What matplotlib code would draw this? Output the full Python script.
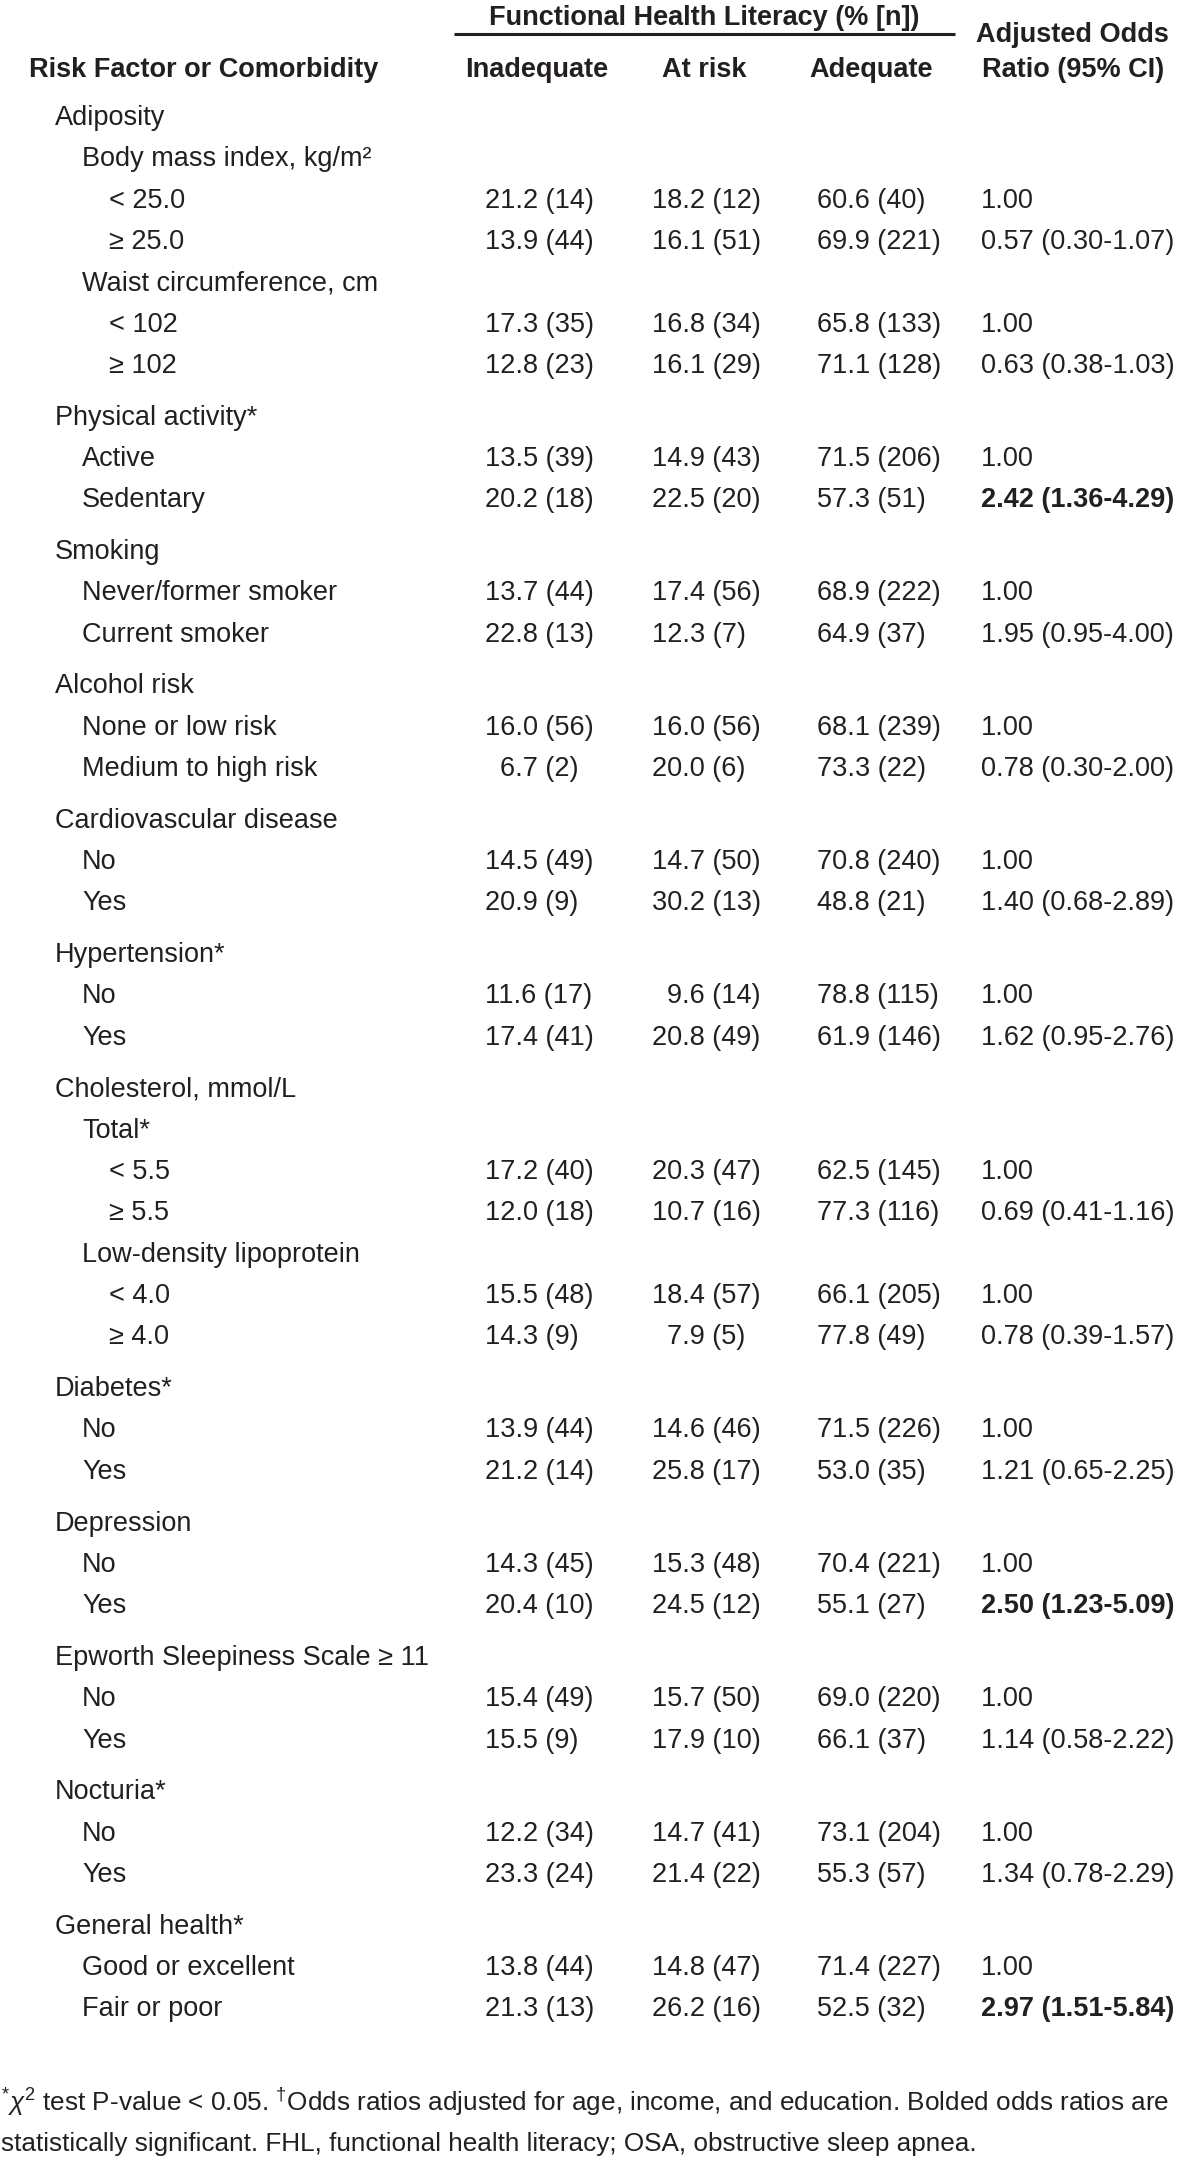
import matplotlib
matplotlib.use("Agg")
import matplotlib.pyplot as plt

# Данные таблицы
labels = [
    "Adiposity", "Body mass index, kg/m²", "< 25.0", "≥ 25.0",
    "Waist circumference, cm", "< 102", "≥ 102",
    "Physical activity*", "Active", "Sedentary",
    "Smoking", "Never/former smoker", "Current smoker",
    "Alcohol risk", "None or low risk", "Medium to high risk",
    "Cardiovascular disease", "No", "Yes",
    "Hypertension*", "No", "Yes",
    "Cholesterol, mmol/L", "Total*", "< 5.5", "≥ 5.5",
    "Low-density lipoprotein", "< 4.0", "≥ 4.0",
    "Diabetes*", "No", "Yes",
    "Depression", "No", "Yes",
    "Epworth Sleepiness Scale ≥ 11", "No", "Yes",
    "Nocturia*", "No", "Yes",
    "General health*", "Good or excellent", "Fair or poor",
]
levels = [0, 1, 2, 2, 1, 2, 2,
          0, 1, 1, 0, 1, 1, 0, 1, 1, 0, 1, 1, 0, 1, 1,
          0, 1, 2, 2, 1, 2, 2,
          0, 1, 1, 0, 1, 1, 0, 1, 1, 0, 1, 1, 0, 1, 1]

inadequate_pct = [None, None, 21.2, 13.9, None, 17.3, 12.8,
                  None, 13.5, 20.2, None, 13.7, 22.8, None, 16.0, 6.7,
                  None, 14.5, 20.9, None, 11.6, 17.4,
                  None, None, 17.2, 12.0, None, 15.5, 14.3,
                  None, 13.9, 21.2, None, 14.3, 20.4, None, 15.4, 15.5,
                  None, 12.2, 23.3, None, 13.8, 21.3]
inadequate_n = [None, None, 14, 44, None, 35, 23,
                None, 39, 18, None, 44, 13, None, 56, 2,
                None, 49, 9, None, 17, 41,
                None, None, 40, 18, None, 48, 9,
                None, 44, 14, None, 45, 10, None, 49, 9,
                None, 34, 24, None, 44, 13]
at_risk_pct = [None, None, 18.2, 16.1, None, 16.8, 16.1,
               None, 14.9, 22.5, None, 17.4, 12.3, None, 16.0, 20.0,
               None, 14.7, 30.2, None, 9.6, 20.8,
               None, None, 20.3, 10.7, None, 18.4, 7.9,
               None, 14.6, 25.8, None, 15.3, 24.5, None, 15.7, 17.9,
               None, 14.7, 21.4, None, 14.8, 26.2]
at_risk_n = [None, None, 12, 51, None, 34, 29,
             None, 43, 20, None, 56, 7, None, 56, 6,
             None, 50, 13, None, 14, 49,
             None, None, 47, 16, None, 57, 5,
             None, 46, 17, None, 48, 12, None, 50, 10,
             None, 41, 22, None, 47, 16]
adequate_pct = [None, None, 60.6, 69.9, None, 65.8, 71.1,
                None, 71.5, 57.3, None, 68.9, 64.9, None, 68.1, 73.3,
                None, 70.8, 48.8, None, 78.8, 61.9,
                None, None, 62.5, 77.3, None, 66.1, 77.8,
                None, 71.5, 53.0, None, 70.4, 55.1, None, 69.0, 66.1,
                None, 73.1, 55.3, None, 71.4, 52.5]
adequate_n = [None, None, 40, 221, None, 133, 128,
              None, 206, 51, None, 222, 37, None, 239, 22,
              None, 240, 21, None, 115, 146,
              None, None, 145, 116, None, 205, 49,
              None, 226, 35, None, 221, 27, None, 220, 37,
              None, 204, 57, None, 227, 32]
odds_ratio = ["", "", "1.00", "0.57 (0.30-1.07)", "", "1.00", "0.63 (0.38-1.03)",
              "", "1.00", "2.42 (1.36-4.29)", "", "1.00", "1.95 (0.95-4.00)",
              "", "1.00", "0.78 (0.30-2.00)", "", "1.00", "1.40 (0.68-2.89)",
              "", "1.00", "1.62 (0.95-2.76)",
              "", "", "1.00", "0.69 (0.41-1.16)", "", "1.00", "0.78 (0.39-1.57)",
              "", "1.00", "1.21 (0.65-2.25)", "", "1.00", "2.50 (1.23-5.09)",
              "", "1.00", "1.14 (0.58-2.22)", "", "1.00", "1.34 (0.78-2.29)",
              "", "1.00", "2.97 (1.51-5.84)"]
significant = ["2.42 (1.36-4.29)", "2.50 (1.23-5.09)", "2.97 (1.51-5.84)"]

col_headers = ["Inadequate", "At risk", "Adequate"]
footnote = [r"$^{*}\chi^{2}$ test P-value < 0.05. $^{\dagger}$Odds ratios adjusted for age, income, and education. Bolded odds ratios are",
            "statistically significant. FHL, functional health literacy; OSA, obstructive sleep apnea."]

INK = "#231f20"
plt.rcParams["font.family"] = ["Liberation Sans", "DejaVu Sans"]
plt.rcParams["mathtext.fontset"] = "custom"
plt.rcParams["mathtext.rm"] = "Liberation Sans"
plt.rcParams["mathtext.it"] = "Liberation Sans:italic"
FS = 19.5
FS_NOTE = 18.8


def cell(pct, n):
    s = f"{pct:.1f} ({n})"
    if pct < 10:
        s = "  " + s
    return s


def main():
    fig = plt.figure(figsize=(12, 21.61), dpi=100)
    ax = fig.add_axes([0, 0, 1, 1])
    ax.set_xlim(0, 1200)
    ax.set_ylim(2161, 0)
    ax.axis("off")

    # Шапка
    ax.text(704, 25, "Functional Health Literacy (% [n])", ha="center", va="baseline",
            fontsize=FS, fontweight="bold", color=INK)
    ax.plot([454, 955], [34, 34], color=INK, lw=2.2, solid_capstyle="butt")
    ax.text(1072, 42, "Adjusted Odds", ha="center", va="baseline",
            fontsize=FS, fontweight="bold", color=INK)
    ax.text(29, 77, "Risk Factor or Comorbidity", ha="left", va="baseline",
            fontsize=FS, fontweight="bold", color=INK)
    for x, h in zip([537, 704, 871], col_headers):
        ax.text(x, 77, h, ha="center", va="baseline", fontsize=FS,
                fontweight="bold", color=INK)
    ax.text(1073, 77, "Ratio (95% CI)", ha="center", va="baseline",
            fontsize=FS, fontweight="bold", color=INK)

    # Строки
    indent = {0: 55, 1: 82, 2: 109}
    y = 125
    for i, lab in enumerate(labels):
        if i > 0:
            y += 41.3
            if levels[i] == 0:
                y += 10.5
        ax.text(indent[levels[i]], y, lab, ha="left", va="baseline",
                fontsize=FS, color=INK)
        if inadequate_pct[i] is not None:
            ax.text(485, y, cell(inadequate_pct[i], inadequate_n[i]),
                    ha="left", va="baseline", fontsize=FS, color=INK)
            ax.text(652, y, cell(at_risk_pct[i], at_risk_n[i]),
                    ha="left", va="baseline", fontsize=FS, color=INK)
            ax.text(817, y, cell(adequate_pct[i], adequate_n[i]),
                    ha="left", va="baseline", fontsize=FS, color=INK)
            bold = odds_ratio[i] in significant
            ax.text(981, y, odds_ratio[i], ha="left", va="baseline",
                    fontsize=FS, color=INK,
                    fontweight="bold" if bold else "normal")

    # Примечание
    ax.text(1, 2111, footnote[0], ha="left", va="baseline", fontsize=FS_NOTE, color=INK)
    ax.text(1, 2151, footnote[1], ha="left", va="baseline", fontsize=FS_NOTE, color=INK)

    fig.savefig("out.png", dpi=100, facecolor="white")


if __name__ == '__main__':
    main()
